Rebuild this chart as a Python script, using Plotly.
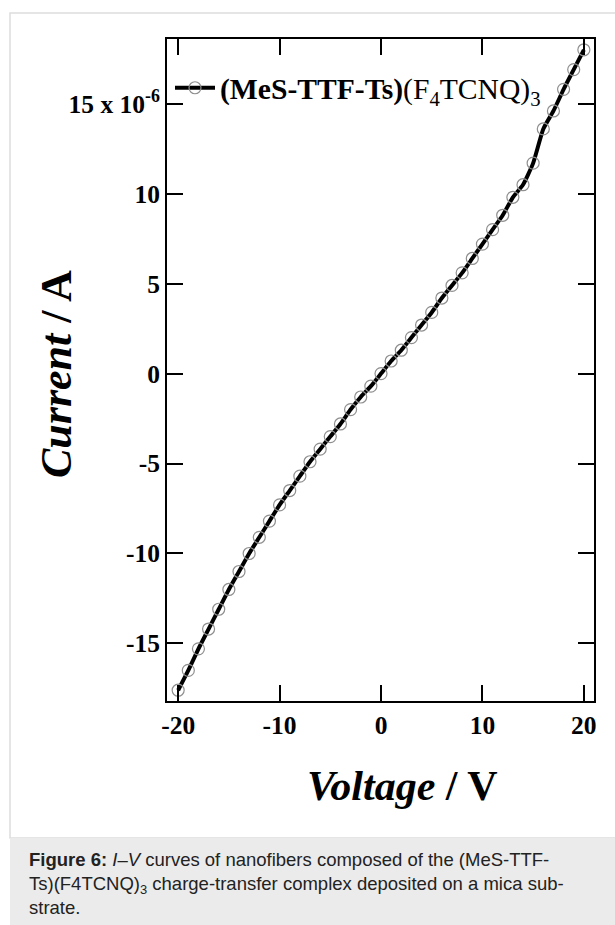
import plotly.graph_objects as go

# ---- data (current in units of 1e-6 A) ----
voltage = [-20, -19, -18, -17, -16, -15, -14, -13, -12, -11, -10, -9, -8, -7, -6, -5, -4, -3, -2, -1,
           0, 1, 2, 3, 4, 5, 6, 7, 8, 9, 10, 11, 12, 13, 14, 15, 16, 17, 18, 19, 20]
current = [-17.6, -16.5, -15.3, -14.2, -13.1, -12.0, -11.0, -10.0, -9.1, -8.2, -7.3, -6.5, -5.7, -4.9, -4.2,
           -3.5, -2.8, -2.0, -1.3, -0.7, 0.0, 0.7, 1.3, 2.0, 2.7, 3.4, 4.2, 4.9, 5.6, 6.4, 7.2, 8.0, 8.8,
           9.8, 10.5, 11.7, 13.6, 14.6, 15.8, 16.9, 18.0]
series_name = "<b>(MeS-TTF-Ts)</b>(F<sub>4</sub>TCNQ)<sub>3</sub>"
x_tickvals = [-20, -10, 0, 10, 20]
x_ticktext = ["-20", "-10", "0", "10", "20"]
y_tickvals = [-15, -10, -5, 0, 5, 10, 15]
y_ticktext = ["-15", "-10", "-5", "0", "5", "10", "15 x 10<sup>-6</sup>"]
x_title = "<b><i>Voltage</i> / V</b>"
y_title = "<b><i>Current</i> / A</b>"
caption = ("<b>Figure 6:</b> <i>I</i>–<i>V</i> curves of nanofibers composed of the (MeS-TTF-<br>"
           "Ts)(F4TCNQ)<sub>3</sub> charge-transfer complex deposited on a mica sub-<br>"
           "strate.")

# ---- layout geometry (pixels) ----
FW, FH = 615, 925
L, R, T, B = 167, 594, 39, 701
W, H = R - L, B - T


def px_x(p):
    return (p - L) / W


def px_y(p):
    return (B - p) / H


SERIF = "Liberation Serif"
SANS = "Liberation Sans"

fig = go.Figure()
fig.add_trace(go.Scatter(
    x=voltage, y=current, mode="lines+markers", name=series_name,
    line=dict(color="black", width=4, shape="spline", smoothing=0.5),
    marker=dict(symbol="circle-open", size=12, color="#8f8f8f", line=dict(width=1.2, color="#8f8f8f")),
))

axis_common = dict(
    showline=True, linecolor="black", linewidth=2, mirror="ticks",
    ticks="inside", ticklen=16, tickwidth=2, tickcolor="black",
    showgrid=False, zeroline=False,
    tickfont=dict(family=SERIF, size=25.5, color="black", weight="bold"),
)

fig.update_layout(
    width=FW, height=FH,
    margin=dict(l=L, r=FW - R, t=T, b=FH - B),
    paper_bgcolor="white", plot_bgcolor="white",
    showlegend=True,
    legend=dict(x=px_x(170), y=px_y(62), xanchor="left", yanchor="top", itemwidth=40,
                bgcolor="rgba(0,0,0,0)", font=dict(family=SERIF, size=29.6, color="black")),
    xaxis=dict(range=[-21.1, 21.0], tickvals=x_tickvals, ticktext=x_ticktext, **axis_common),
    yaxis=dict(range=[-18.2, 18.6], tickvals=y_tickvals, ticktext=y_ticktext, **axis_common),
)

# axis titles placed as annotations
fig.add_annotation(x=px_x(402), y=px_y(786), xref="paper", yref="paper",
                   text=x_title, showarrow=False,
                   font=dict(family=SERIF, size=42, color="black"), xanchor="center", yanchor="middle")
fig.add_annotation(x=px_x(57), y=px_y(374), xref="paper", yref="paper",
                   text=y_title, textangle=-90, showarrow=False,
                   font=dict(family=SERIF, size=44, color="black"), xanchor="center", yanchor="middle")

# page frame & caption box
fig.add_shape(type="rect", xref="paper", yref="paper",
              x0=px_x(10), x1=px_x(640), y0=px_y(838), y1=px_y(13),
              line=dict(color="#dddddd", width=1.5), fillcolor="rgba(0,0,0,0)", layer="below")
fig.add_shape(type="rect", xref="paper", yref="paper",
              x0=px_x(10), x1=px_x(640), y0=px_y(940), y1=px_y(838),
              line=dict(width=0), fillcolor="#ebebeb", layer="below")
fig.add_annotation(x=px_x(27), y=px_y(847), xref="paper", yref="paper", text=caption,
                   showarrow=False, xanchor="left", yanchor="top", align="left",
                   font=dict(family=SANS, size=18.5, color="#222222"))

fig.write_html("out.html")
